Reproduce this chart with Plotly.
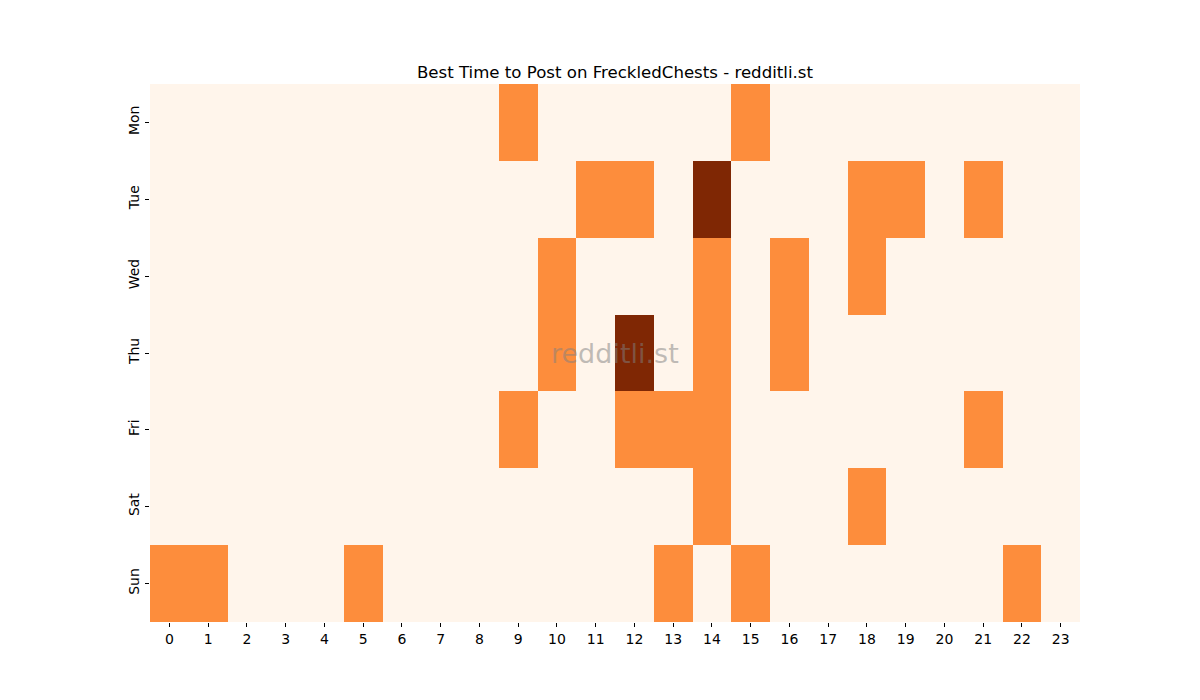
import plotly.graph_objects as go

# activity level per day (rows) and hour (columns)
days = ["Mon", "Tue", "Wed", "Thu", "Fri", "Sat", "Sun"]
hours = list(range(24))

mon = [0, 0, 0, 0, 0, 0, 0, 0, 0, 1, 0, 0, 0, 0, 0, 1, 0, 0, 0, 0, 0, 0, 0, 0]
tue = [0, 0, 0, 0, 0, 0, 0, 0, 0, 0, 0, 1, 1, 0, 2, 0, 0, 0, 1, 1, 0, 1, 0, 0]
wed = [0, 0, 0, 0, 0, 0, 0, 0, 0, 0, 1, 0, 0, 0, 1, 0, 1, 0, 1, 0, 0, 0, 0, 0]
thu = [0, 0, 0, 0, 0, 0, 0, 0, 0, 0, 1, 0, 2, 0, 1, 0, 1, 0, 0, 0, 0, 0, 0, 0]
fri = [0, 0, 0, 0, 0, 0, 0, 0, 0, 1, 0, 0, 1, 1, 1, 0, 0, 0, 0, 0, 0, 1, 0, 0]
sat = [0, 0, 0, 0, 0, 0, 0, 0, 0, 0, 0, 0, 0, 0, 1, 0, 0, 0, 1, 0, 0, 0, 0, 0]
sun = [1, 1, 0, 0, 0, 1, 0, 0, 0, 0, 0, 0, 0, 1, 0, 1, 0, 0, 0, 0, 0, 0, 1, 0]

z = [mon, tue, wed, thu, fri, sat, sun]

FONT = "DejaVu Sans, sans-serif"

fig = go.Figure(go.Heatmap(
    z=z,
    x=hours,
    y=days,
    colorscale="Oranges",
    zmin=0,
    zmax=2,
    showscale=False,
    xgap=0,
    ygap=0,
))

# faint watermark in the middle of the grid
fig.add_annotation(
    text="redditli.st",
    x=0.5, y=0.5, xref="paper", yref="paper",
    showarrow=False,
    font=dict(family=FONT, size=27, color="rgba(128,128,128,0.5)"),
)

fig.update_layout(
    width=1200,
    height=700,
    margin=dict(l=142, r=128, t=76, b=86),
    paper_bgcolor="white",
    plot_bgcolor="white",
    font=dict(family=FONT, size=14, color="black"),
    title=dict(
        text="Best Time to Post on FreckledChests - redditli.st",
        x=0.5058, xanchor="center",
        y=0.9, yanchor="bottom",
        font=dict(family=FONT, size=16.6, color="black"),
    ),
    xaxis=dict(
        tickmode="array",
        tickvals=hours,
        ticktext=[str(h) for h in hours],
        ticks="outside",
        ticklen=4,
        tickcolor="black",
        showgrid=False,
        zeroline=False,
        showline=False,
        tickangle=0,
    ),
    yaxis=dict(
        autorange="reversed",
        ticks="outside",
        ticklen=4,
        tickcolor="black",
        showgrid=False,
        zeroline=False,
        showline=False,
        tickangle=-90,
    ),
)

fig.write_html("out.html")
